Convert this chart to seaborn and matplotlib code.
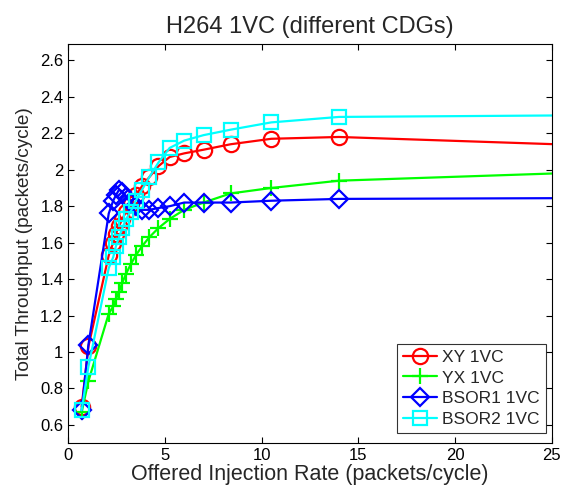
import matplotlib
matplotlib.use("Agg")
import matplotlib.pyplot as plt
import seaborn as sns
import pandas as pd
from matplotlib.ticker import FuncFormatter

# offered injection rate (packets/cycle); last point lies beyond the visible range
rate = [0.7, 1.05, 2.1, 2.33, 2.47, 2.63, 2.8, 3.0, 3.23, 3.5, 3.82, 4.2,
        4.67, 5.25, 6.0, 7.0, 8.4, 10.5, 14.0, 42.0]

xy_1vc = [0.70, 1.03, 1.53, 1.60, 1.65, 1.69, 1.73, 1.77, 1.81, 1.86, 1.91,
          1.96, 2.02, 2.07, 2.09, 2.11, 2.14, 2.17, 2.18, 2.08]
yx_1vc = [0.67, 0.84, 1.21, 1.25, 1.29, 1.33, 1.38, 1.43, 1.48, 1.53, 1.58,
          1.63, 1.68, 1.73, 1.78, 1.82, 1.87, 1.90, 1.94, 2.04]
bsor1_1vc = [0.68, 1.04, 1.76, 1.83, 1.86, 1.89, 1.88, 1.85, 1.82, 1.80, 1.78,
             1.78, 1.79, 1.80, 1.82, 1.82, 1.82, 1.83, 1.84, 1.85]
bsor2_1vc = [0.68, 0.92, 1.46, 1.52, 1.58, 1.63, 1.68, 1.73, 1.77, 1.83, 1.89,
             1.96, 2.04, 2.12, 2.16, 2.19, 2.22, 2.26, 2.29, 2.31]

series = [
    ("XY 1VC", xy_1vc, "#ff0000", "o"),
    ("YX 1VC", yx_1vc, "#00ff00", "+"),
    ("BSOR1 1VC", bsor1_1vc, "#0000ff", "D"),
    ("BSOR2 1VC", bsor2_1vc, "#00ffff", "s"),
]

sns.set_style("white")
plt.rcParams['font.family'] = ['Liberation Sans', 'DejaVu Sans']

fig = plt.figure(figsize=(5.63, 4.95), dpi=100)
ax = fig.add_axes([0.121, 0.105, 0.859, 0.806])

for name, vals, color, mk in series:
    df = pd.DataFrame({"rate": rate, "thr": vals})
    msize = {"o": 11, "+": 12, "D": 9, "s": 10}[mk]
    sns.lineplot(data=df, x="rate", y="thr", ax=ax, color=color, label=name,
                 marker=mk, markersize=msize, markerfacecolor="none",
                 markeredgecolor=color, markeredgewidth=1.6, linewidth=1.6)

ax.set_xlim(0, 25)
ax.set_ylim(0.5, 2.69)
ax.set_xticks([0, 5, 10, 15, 20, 25])
ax.set_yticks([0.6, 0.8, 1.0, 1.2, 1.4, 1.6, 1.8, 2.0, 2.2, 2.4, 2.6])
ax.yaxis.set_major_formatter(FuncFormatter(lambda v, p: f"{v:g}"))
ax.tick_params(direction="in", length=4, width=0.8, labelsize=12,
               top=True, right=True, bottom=True, left=True, colors="black")
for sp in ax.spines.values():
    sp.set_color("black")
    sp.set_linewidth(0.8)

ax.set_xlabel("Offered Injection Rate (packets/cycle)", fontsize=15.5, labelpad=1)
ax.set_ylabel("Total Throughput (packets/cycle)", fontsize=13.7, labelpad=5)
ax.set_title("H264 1VC (different CDGs)", fontsize=17, pad=8)

leg = ax.legend(loc="lower right", bbox_to_anchor=(1 - 6 / 484, 10 / 399),
                fontsize=12.5, frameon=True, fancybox=False,
                edgecolor="black", handlelength=1.95, borderaxespad=0,
                labelspacing=0.32, borderpad=0.35, handletextpad=0.3)
leg.get_frame().set_linewidth(0.8)

fig.savefig("out.png", dpi=100)
